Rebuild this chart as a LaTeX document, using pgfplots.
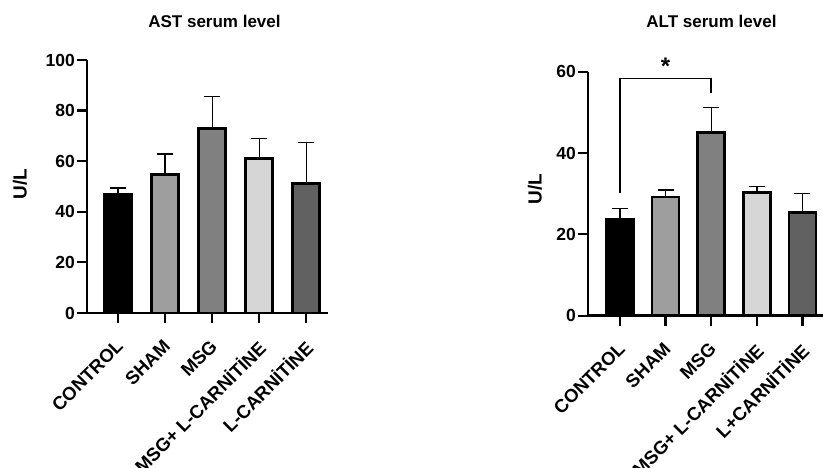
\documentclass[border=0pt]{standalone}
\usepackage{pgfplots}
\pgfplotsset{compat=1.18}
\usepackage{fontspec}
\setmainfont{Liberation Sans}
\definecolor{cSham}{gray}{0.62}
\definecolor{cMsg}{gray}{0.50}
\definecolor{cMsgL}{gray}{0.84}
\definecolor{cLc}{gray}{0.38}
\pgfplotsset{
  myax/.style={
    scale only axis,
    anchor=south west,
    axis x line*=bottom,
    axis y line*=left,
    axis line style={line width=2.4pt},
    major tick style={line width=2.2pt, black},
    major tick length=10pt,
    tick align=outside,
    ymin=0,
    xtick={0,1,2,3,4},
    ybar, bar shift=0pt, bar width=27pt,
    /pgf/number format/assume math mode=true,
    yticklabel style={inner sep=2pt, font=\fontsize{17.5}{19}\selectfont\bfseries},
    xticklabel style={yshift=-14pt, xshift=-3pt, rotate=45, anchor=north east, inner sep=1pt, font=\fontsize{18.5}{20}\selectfont\bfseries},
    every axis y label/.style={rotate=90, anchor=center, font=\fontsize{19}{20}\selectfont\bfseries},
    clip=false,
    every axis plot/.append style={draw=black, line width=2.8pt,
      error bars/y dir=plus, error bars/y explicit,
      error bars/error bar style={line width=1.4pt, black},
      error bars/error mark options={rotate=90, mark size=8pt, line width=1.4pt, black}},
  }
}
\begin{document}
\begin{tikzpicture}
\path[use as bounding box] (0pt,0pt) rectangle (823pt,468pt);
% AST
\begin{axis}[myax, at={(87pt,155pt)}, width=241pt, height=253pt,
  xmin=-0.66, xmax=4.46, ymax=100, ytick={0,20,40,60,80,100},
  xticklabels={CONTROL,SHAM,MSG,MSG+ L-CARNİTİNE,L-CARNİTİNE},
  ylabel={U/L}, every axis y label/.append style={at={(axis description cs:-0.278,0.51)}}]
\addplot[fill=black] coordinates {(0,46.9) +- (0,2.5)};
\addplot[fill=cSham] coordinates {(1,54.8) +- (0,8.0)};
\addplot[fill=cMsg] coordinates {(2,72.8) +- (0,12.7)};
\addplot[fill=cMsgL] coordinates {(3,61.0) +- (0,8.0)};
\addplot[fill=cLc] coordinates {(4,51.3) +- (0,16.0)};
\end{axis}
% ALT
\begin{axis}[myax, at={(588pt,152.3pt)}, width=235pt, height=244pt,
  xmin=-0.70, xmax=4.45, ymax=60, ytick={0,20,40,60},
  xticklabels={CONTROL,SHAM,MSG,MSG+ L-CARNİTİNE,L+CARNİTİNE},
  ylabel={U/L}, every axis y label/.append style={at={(axis description cs:-0.2255,0.52)}}]
\addplot[fill=black] coordinates {(0,23.8) +- (0,2.6)};
\addplot[fill=cSham] coordinates {(1,29.2) +- (0,1.7)};
\addplot[fill=cMsg] coordinates {(2,45.0) +- (0,6.2)};
\addplot[fill=cMsgL] coordinates {(3,30.2) +- (0,1.5)};
\addplot[fill=cLc] coordinates {(4,25.3) +- (0,4.8)};
\draw[line width=1.6pt] (axis cs:0,30.1) -- (axis cs:0,58.3) -- (axis cs:2,58.3) -- (axis cs:2,54.8);
\node[font=\fontsize{24}{24}\selectfont\bfseries, anchor=center] at (axis cs:1,61.3) {*};
\end{axis}
\node[font=\fontsize{17}{18}\selectfont\bfseries] at (214.5pt,446.5pt) {AST serum level};
\node[font=\fontsize{17}{18}\selectfont\bfseries] at (711.5pt,447pt) {ALT serum level};
\end{tikzpicture}
\end{document}
